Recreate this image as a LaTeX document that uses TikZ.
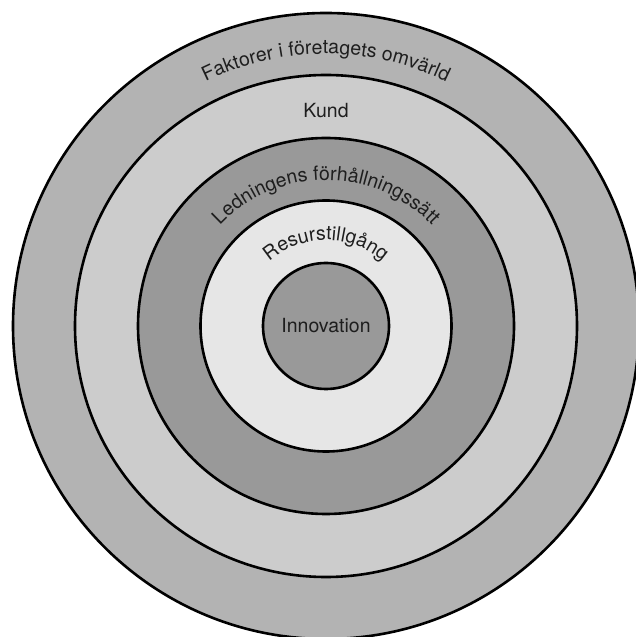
\documentclass[tikz,border=0pt]{standalone}
\usepackage{fontspec}
\setmainfont{TeX Gyre Heros}
\usetikzlibrary{decorations.text}
\definecolor{ringA}{RGB}{179,179,179}
\definecolor{ringB}{RGB}{204,204,204}
\definecolor{ringC}{RGB}{153,153,153}
\definecolor{ringD}{RGB}{230,230,230}
\definecolor{ringE}{RGB}{153,153,153}
\definecolor{txt}{RGB}{30,30,30}
\newcommand{\lblfont}{\fontsize{19.5}{22}\selectfont}
\tikzset{
  ring/.style={circle, draw=black, line width=2.6pt, inner sep=0pt},
  flat/.style={text=txt, font=\lblfont, inner sep=0pt},
  curved/.style={decorate, decoration={text along path, text align=center,
     text color=txt, text={|\lblfont|#1}}}
}
\begin{document}
\begin{tikzpicture}
\useasboundingbox (0,0) rectangle (635pt,637pt);
\coordinate (c) at (326pt,311pt);
\node[ring, fill=ringA, minimum size=626pt] (omv) at (c) {};
\node[ring, fill=ringB, minimum size=502pt] (kund) at (c) {};
\node[ring, fill=ringC, minimum size=376pt] (led) at (c) {};
\node[ring, fill=ringD, minimum size=251pt] (res) at (c) {};
\node[ring, fill=ringE, minimum size=126pt] (inn) at (c) {};
\node[flat] (innlbl) at (c) {Innovation};
\node[flat, anchor=base] (kundlbl) at ([yshift=208pt]c) {Kund};
\path[curved={Faktorer i företagets omvärld}] ([xshift=-272pt]c) arc[start angle=180, end angle=0, radius=272pt];
\path[curved={Ledningens förhållningssätt}] ([xshift=-146pt]c) arc[start angle=180, end angle=0, radius=146pt];
\path[curved={Resurstillgång}] ([xshift=-86pt]c) arc[start angle=180, end angle=0, radius=86pt];
\end{tikzpicture}
\end{document}
